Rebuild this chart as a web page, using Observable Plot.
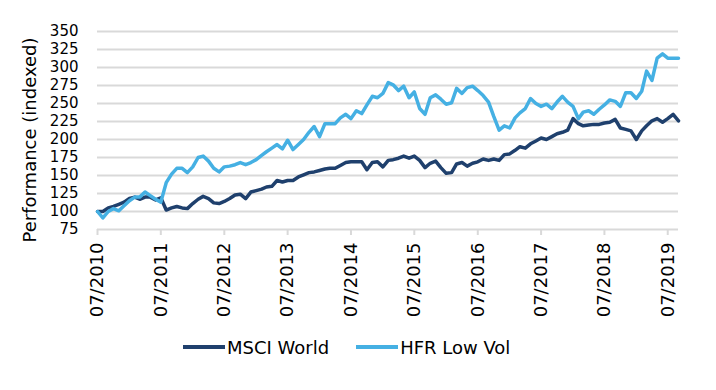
<!DOCTYPE html>
<html><head><meta charset="utf-8">
<script src="https://cdn.jsdelivr.net/npm/d3@7"></script>
<script src="https://cdn.jsdelivr.net/npm/@observablehq/plot@0.6"></script>
<style>
body{margin:0;background:#fff;font-family:"DejaVu Sans",Verdana,sans-serif;}
#wrap{position:relative;width:716px;height:390px;overflow:hidden;}
#ytitle{position:absolute;left:29px;top:140px;transform:translate(-50%,-50%) rotate(-90deg);font-size:18px;white-space:nowrap;color:#000;}
#legend{position:absolute;top:334px;left:183px;display:flex;align-items:center;font-size:18px;height:26px;color:#000;}
.item{display:flex;align-items:center;margin-right:27px;white-space:nowrap}
.sw{width:42px;height:4px;margin-right:2px}
</style></head><body>
<div id="wrap"><div id="chart"></div><div id="ytitle"></div><div id="legend"></div></div>
<script>
const seriesNames = ["MSCI World", "HFR Low Vol"];
const seriesColors = ["#1f406d", "#45b0e3"];
const yTitle = "Performance (indexed)";
const firstMonth = "2010-07-01";
const lastMonth = "2019-09-01";
const tickLabels = ["07/2010","07/2011","07/2012","07/2013","07/2014","07/2015","07/2016","07/2017","07/2018","07/2019"];
const yTicks = [75,100,125,150,175,200,225,250,275,300,325,350];

const msci = [
 100,100,105,107,110,113,118,120,117,120,
 120,116,119,102,105,107,105,104,111,117,
 121,118,112,111,114,118,123,124,118,127,
 129,131,134,135,143,141,143,143,148,151,
 154,155,157,159,160,160,164,168,169,169,
 169,158,168,169,162,171,172,174,177,174,
 177,171,161,167,170,161,153,154,166,168,
 163,167,169,173,171,173,171,179,180,185,
 190,188,194,198,202,200,204,208,210,213,
 229,222,219,220,221,221,223,224,228,216,
 214,212,200,212,219,226,229,224,229,235,226];
const hfr = [
 100,91,100,104,101,108,115,120,120,127,
 122,117,113,140,152,160,160,154,162,175,
 177,170,160,155,162,163,165,168,165,168,
 172,178,183,188,193,187,199,186,193,200,
 210,218,204,222,222,222,230,235,229,240,
 236,248,260,258,264,279,276,268,274,258,
 266,243,235,258,262,256,249,251,271,264,
 272,274,268,261,252,232,213,219,216,230,
 237,243,257,250,246,249,243,252,260,252,
 246,229,238,240,235,242,248,255,253,246,
 265,265,257,267,295,282,313,319,313,313,313];

const parse = d3.utcParse("%Y-%m-%d");
const months = d3.utcMonth.range(parse(firstMonth), d3.utcMonth.offset(parse(lastMonth), 1));
const tickDates = months.filter(d => d.getUTCMonth() === 6);
const rows = months.map((d, i) => ({date: d, msci: msci[i], hfr: hfr[i]}));

const chart = Plot.plot({
  width: 716, height: 325,
  marginLeft: 97, marginRight: 38, marginTop: 31, marginBottom: 96,
  style: {fontFamily: "'DejaVu Sans', Verdana, sans-serif", fontSize: "18px", color: "#000", background: "#fff"},
  x: {type: "utc", domain: [months[0], months[months.length - 1]]},
  y: {domain: [75, 350]},
  marks: [
    Plot.gridY(yTicks, {stroke: "#d9d9d9", strokeOpacity: 1, strokeWidth: 2}),
    Plot.axisY(yTicks, {tickSize: 0, tickPadding: 19, label: null, fontSize: 15, tickFormat: d => String(d)}),
    Plot.axisX(tickDates, {tickRotate: -90, tickSize: 6, tickPadding: 7, label: null,
      stroke: "#d9d9d9", strokeWidth: 2,
      tickFormat: d => tickLabels[tickDates.findIndex(t => +t === +d)]}),
    Plot.line(rows, {x: "date", y: "msci", stroke: seriesColors[0], strokeWidth: 3.5, strokeLinejoin: "round"}),
    Plot.line(rows, {x: "date", y: "hfr", stroke: seriesColors[1], strokeWidth: 3.5, strokeLinejoin: "round"})
  ]
});
document.getElementById("chart").append(chart);
document.getElementById("ytitle").textContent = yTitle;
const lg = document.getElementById("legend");
seriesNames.forEach((n, i) => {
  const it = document.createElement("div"); it.className = "item";
  const sw = document.createElement("div"); sw.className = "sw"; sw.style.background = seriesColors[i];
  const tx = document.createElement("span"); tx.textContent = n;
  it.append(sw, tx); lg.append(it);
});
</script></body></html>
